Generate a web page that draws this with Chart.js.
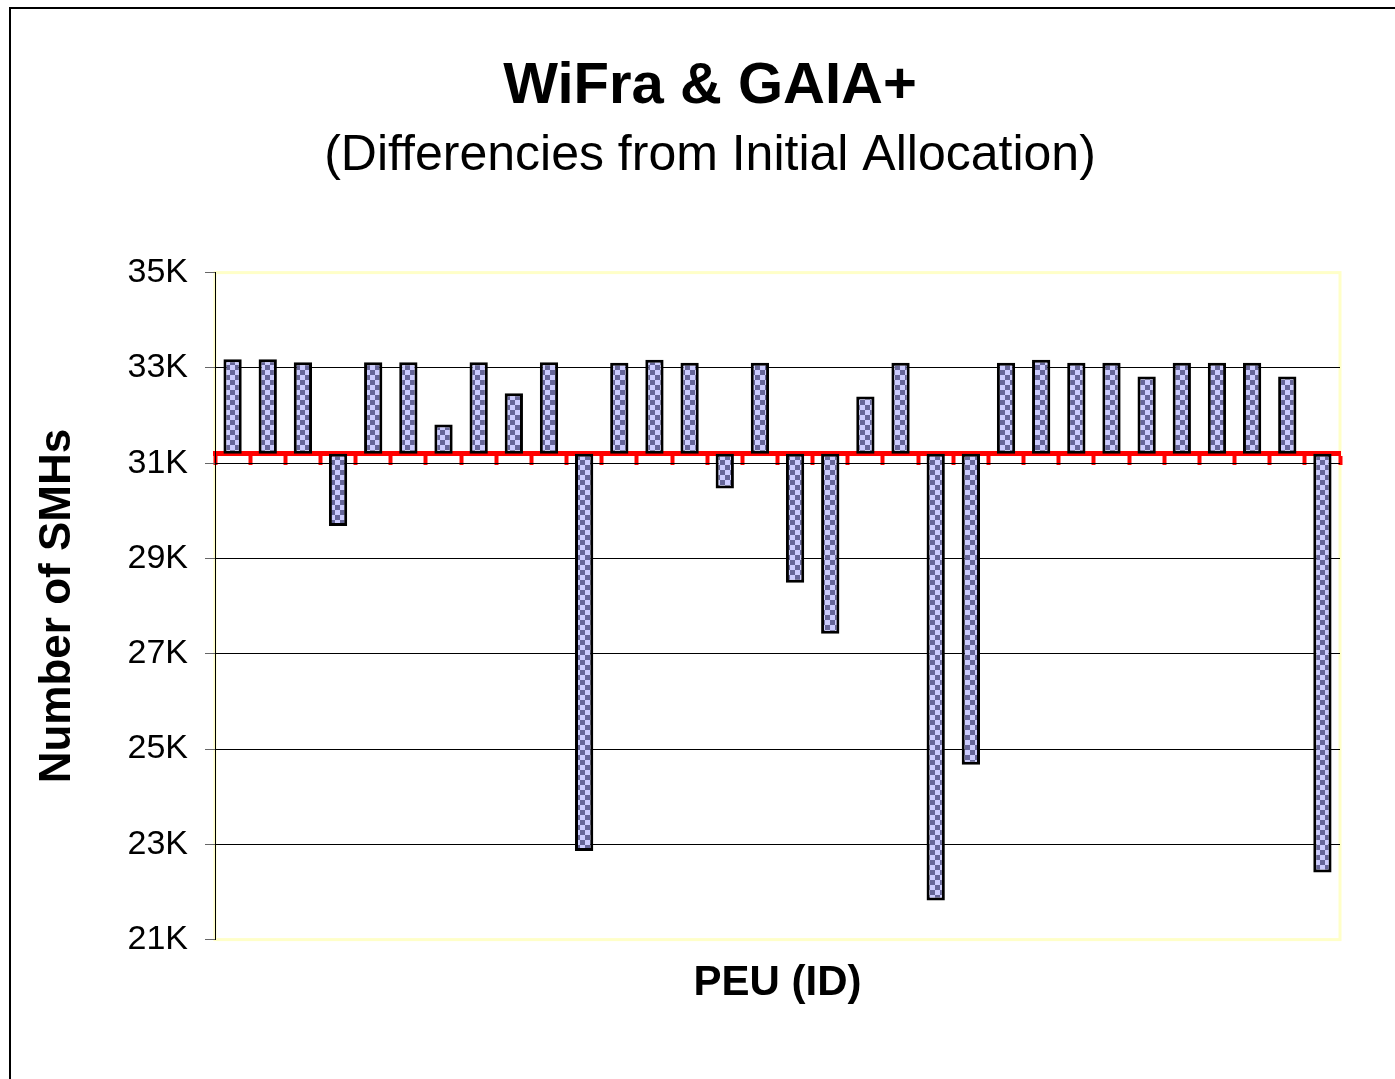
<!DOCTYPE html>
<html><head><meta charset="utf-8">
<script src="https://cdn.jsdelivr.net/npm/chart.js@4.4.1/dist/chart.umd.min.js"></script>
<style>
html,body{margin:0;padding:0;background:#fff;overflow:hidden}
#wrap{position:relative;width:1395px;height:1079px;overflow:hidden}
#frame{position:absolute;left:9px;top:7px;width:1400px;height:1100px;border-left:2px solid #000;border-top:2px solid #000;pointer-events:none}
</style></head><body>
<div id="wrap"><canvas id="c" width="1420" height="1079"></canvas><div id="frame"></div></div>
<script>
const peuIds = [1,2,3,4,5,6,7,8,9,10,11,12,13,14,15,16,17,18,19,20,21,22,23,24,25,26,27,28,29,30,31,32];
const initialAllocation = 31200;
const smhValues = [33180,33180,33120,29680,33120,33120,31810,33120,32470,33120,22860,33110,33170,33110,30470,33110,28490,27420,32400,33110,21820,24670,33110,33170,33110,33110,32820,33110,33110,33110,32820,22410];
const yTickMin = 21000, yTickMax = 35000, yTickStep = 2000;

const FONT = "'Liberation Sans', Arial, sans-serif";

// checkerboard fill
const pc = document.createElement('canvas');
pc.width = 10; pc.height = 10;
const pctx = pc.getContext('2d');
pctx.fillStyle = '#ccccff'; pctx.fillRect(0,0,10,10);
pctx.fillStyle = '#666699'; pctx.fillRect(0,0,5,5); pctx.fillRect(5,5,5,5);
const ctx = document.getElementById('c').getContext('2d');
const checker = ctx.createPattern(pc, 'repeat');

const plotBorder = {
  id: 'plotBorder',
  beforeDraw(chart) {
    const {ctx, chartArea: a} = chart;
    ctx.save();
    ctx.strokeStyle = '#ffffc8';
    ctx.lineWidth = 3;
    ctx.strokeRect(a.left, a.top, a.right - a.left, a.bottom - a.top);
    ctx.restore();
  }
};

new Chart(ctx, {
  type: 'bar',
  data: {
    labels: peuIds,
    datasets: [{
      data: smhValues.map(v => [initialAllocation, v]),
      backgroundColor: checker,
      borderColor: '#000',
      borderWidth: 3,
      borderSkipped: false,
      barPercentage: 0.52,
      categoryPercentage: 1.0
    }]
  },
  options: {
    responsive: false,
    animation: false,
    devicePixelRatio: 1,
    layout: { padding: { left: 0, right: 0, top: 0, bottom: 70 } },
    plugins: {
      legend: { display: false },
      tooltip: { enabled: false },
      title: {
        display: true,
        text: 'WiFra & GAIA+',
        color: '#000',
        font: { family: FONT, size: 58, weight: 'bold', lineHeight: 1.2 },
        padding: { top: 52, bottom: 0 }
      },
      subtitle: {
        display: true,
        text: '(Differencies from Initial Allocation)',
        color: '#000',
        font: { family: FONT, size: 50, weight: 'normal', lineHeight: 1.2 },
        padding: { top: 5, bottom: 86 }
      }
    },
    scales: {
      x: {
        type: 'category',
        position: { y: initialAllocation },
        z: 1,
        ticks: { display: false },
        grid: {
          display: true,
          drawOnChartArea: false,
          drawTicks: true,
          tickLength: 9,
          tickWidth: 4,
          tickColor: '#ff0000',
          offset: true
        },
        border: { display: true, color: '#ff0000', width: 5 }
      },
      x2: {
        type: 'category',
        position: 'bottom',
        ticks: { display: false },
        grid: { display: false, drawTicks: false },
        border: { display: false },
        title: {
          display: true,
          text: 'PEU (ID)',
          color: '#000',
          font: { family: FONT, size: 42, weight: 'bold', lineHeight: 1.2 },
          padding: { top: 19, bottom: 0 }
        }
      },
      y: {
        min: yTickMin,
        max: yTickMax,
        afterFit(scale) { scale.width = 215; },
        ticks: {
          stepSize: yTickStep,
          color: '#000',
          padding: 17,
          font: { family: FONT, size: 34 },
          callback: v => (v / 1000) + 'K'
        },
        grid: {
          color: c => (c.tick && (c.tick.value === yTickMin || c.tick.value === yTickMax)) ? 'rgba(0,0,0,0)' : '#000',
          lineWidth: 1,
          tickLength: 10,
          tickColor: '#666',
          drawTicks: true
        },
        border: { display: true, color: '#000', width: 1 },
        title: {
          display: true,
          text: 'Number of SMHs',
          color: '#000',
          font: { family: FONT, size: 44, weight: 'bold', lineHeight: 1.2 },
          padding: { top: 31, bottom: 0 }
        }
      },
      ySpacer: {
        position: 'right',
        min: yTickMin,
        max: yTickMax,
        afterFit(scale) { scale.width = 80; },
        ticks: { display: false },
        grid: { display: false, drawTicks: false },
        border: { display: false }
      }
    }
  },
  plugins: [plotBorder]
});
</script>
</body></html>
